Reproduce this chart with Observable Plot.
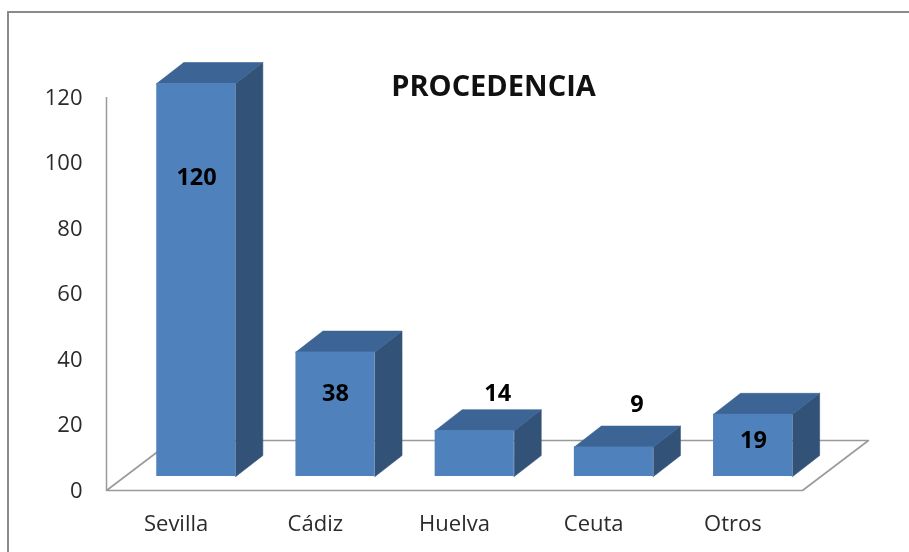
<!DOCTYPE html>
<html>
<head>
<meta charset="utf-8">
<script src="https://cdn.jsdelivr.net/npm/d3@7"></script>
<script src="https://cdn.jsdelivr.net/npm/@observablehq/plot@0.6"></script>
<style>
html,body{margin:0;padding:0;background:#fff;overflow:hidden}
#chart{position:relative;width:909px;height:552px}
#chart svg{display:block;font-family:"Open Sans",sans-serif;filter:blur(.5px)}
#border{position:absolute;left:7px;top:11px;right:-5px;bottom:-5px;border:2px solid #8a8a8a}
</style>
</head>
<body>
<div id="chart"><div id="border"></div></div>
<script>
// Data
const categories = ["Sevilla", "Cádiz", "Huelva", "Ceuta", "Otros"];
const values = [120, 38, 14, 9, 19];
const yTicks = [0, 20, 40, 60, 80, 100, 120];
const title = "PROCEDENCIA";
// Where each value label sits, in scale units (x = category slot, y = axis value)
const labelSlot = [0.647, 1.645, 2.81, 3.81, 4.648];
const labelLevel = [95.6, 29.6, 29.6, 26.3, 15.3];

// 3D projection, in scale units
const floorDX = 0.474, floorDY = 15.27;   // full floor depth
const baseDX = 0.145, baseDY = 4.27;      // bar front relative to slot
const halfW = 0.284;                      // half of bar width
const depthDX = 0.194, depthDY = 6.4;     // bar depth

const n = categories.length;
const tops = [], sides = [];
const fronts = values.map((v, i) => {
  const x1 = i + 0.5 + baseDX - halfW, x2 = i + 0.5 + baseDX + halfW;
  const y1 = baseDY, y2 = baseDY + v;
  [[x1,y2],[x1+depthDX,y2+depthDY],[x2+depthDX,y2+depthDY],[x2,y2]]
    .forEach(([x,y]) => tops.push({x, y, i}));
  [[x2,y1],[x2+depthDX,y1+depthDY],[x2+depthDX,y2+depthDY],[x2,y2]]
    .forEach(([x,y]) => sides.push({x, y, i}));
  return {x1, x2, y1, y2};
});
const floor = [[0,0],[floorDX,floorDY],[n+floorDX,floorDY],[n,0],[0,0]].map(([x,y]) => ({x,y}));

const plot = Plot.plot({
  width: 909, height: 552,
  marginLeft: 106, marginRight: 107, marginTop: 97, marginBottom: 62,
  x: {type: "linear", domain: [0, n], axis: null},
  y: {domain: [0, 120], axis: null},
  marks: [
    Plot.line(floor, {x: "x", y: "y", stroke: "#9a9a9a", strokeWidth: 1.6}),
    Plot.ruleX([0], {y1: 0, y2: 120, stroke: "#9a9a9a", strokeWidth: 1.5}),
    Plot.line(sides, {x: "x", y: "y", z: "i", fill: "#325278", stroke: "#325278", strokeWidth: 0.6, curve: "linear-closed"}),
    Plot.line(tops, {x: "x", y: "y", z: "i", fill: "#3c6494", stroke: "#3c6494", strokeWidth: 0.6, curve: "linear-closed"}),
    Plot.rect(fronts, {x1: "x1", x2: "x2", y1: "y1", y2: "y2", fill: "#4f81bd"}),
    Plot.axisY({ticks: yTicks, tickSize: 0, tickPadding: 24, tickFormat: d => String(d), label: null, fontSize: 22, color: "#2b2b2b"}),
    Plot.axisX(categories.map((_, i) => i + 0.5), {tickSize: 0, tickPadding: 25, tickFormat: d => categories[d - 0.5], label: null, fontSize: 22, color: "#2b2b2b"}),
    Plot.text(values, {
      x: (_, i) => labelSlot[i], y: (_, i) => labelLevel[i],
      text: d => String(d), fontSize: 23.5, fontWeight: "bold", fill: "#000"
    }),
    Plot.text([title], {
      x: [2.78], y: [123.4],
      fontSize: 29, fontWeight: "bold", fill: "#111"
    })
  ]
});
document.getElementById("chart").prepend(plot);
</script>
</body>
</html>
